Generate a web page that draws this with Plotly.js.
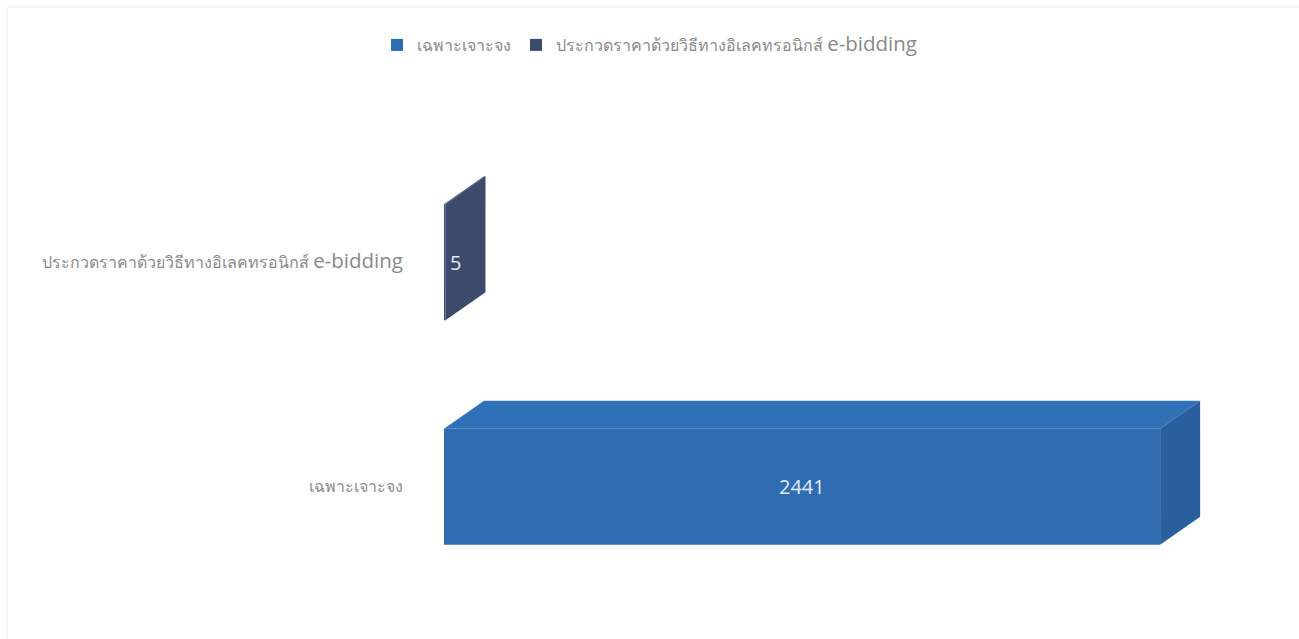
<!DOCTYPE html>
<html>
<head>
<meta charset="utf-8">
<script src="https://cdn.plot.ly/plotly-3.0.1.min.js"></script>
<style>
html,body{margin:0;padding:0;background:#ffffff;}
#chart{width:1299px;height:639px;}
</style>
</head>
<body>
<div id="chart"></div>
<script>
// ---- data ----
const categories = ["เฉพาะเจาะจง", "ประกวดราคาด้วยวิธีทางอิเลคทรอนิกส์ e-bidding"];
const seriesNames = ["เฉพาะเจาะจง", "ประกวดราคาด้วยวิธีทางอิเลคทรอนิกส์ e-bidding"];
const values = [2441, 5];
const tickLabels = [
  "เฉพาะเจาะจง",
  "ประกวดราคาด้วยวิธีทางอิเลคทรอนิกส์ <span style=\"font-size:20.5px\">e-bidding</span>"
];
const legendLabels = [
  "เฉพาะเจาะจง",
  "ประกวดราคาด้วยวิธีทางอิเลคทรอนิกส์ <span style=\"font-size:20.5px\">e-bidding</span>"
];

// ---- styling / geometry ----
const frontColors = ["#2f6cb2", "#3c4a6c"];
const topColors   = ["#3070b6", "#3c4a6c"];
const sideColors  = ["#2a5f9e", "#3c4a6c"];
const W = 1299, H = 639;
const margin = {l: 444, r: 89, t: 150, b: 40};
const xMax = 2611;
const plotW = W - margin.l - margin.r;
const plotH = H - margin.t - margin.b;
const yRange = [-0.5, 1.5];
const pxX = xMax / plotW;                   // data units per px (x)
const pxY = (yRange[1] - yRange[0]) / plotH; // data units per px (y)
const dx = 40 * pxX, dy = 28 * pxY;         // 3D depth
const half = 0.258;                          // half bar thickness
const labelFont = {color: "#e3eaf4", size: 20, family: "Open Sans, sans-serif"};

const traces = [];
// depth faces (top + side) built from the data
values.forEach((v, i) => {
  const c = i;
  traces.push({
    type: "scatter", mode: "lines", fill: "toself", hoverinfo: "skip", showlegend: false,
    x: [0, dx, v + dx, v, 0], y: [c + half, c + half + dy, c + half + dy, c + half, c + half],
    line: {width: 0, color: topColors[i]}, fillcolor: topColors[i]
  });
  traces.push({
    type: "scatter", mode: "lines", fill: "toself", hoverinfo: "skip", showlegend: false,
    x: [v, v + dx, v + dx, v, v], y: [c - half, c - half + dy, c + half + dy, c + half, c - half],
    line: {width: 0, color: sideColors[i]}, fillcolor: sideColors[i]
  });
});
// front faces as real bars
values.forEach((v, i) => {
  traces.push({
    type: "bar", orientation: "h", name: legendLabels[i],
    x: [v], y: [i], width: 2 * half,
    marker: {color: frontColors[i], line: {width: 0}},
    hoverinfo: "skip"
  });
});

// data labels (annotations sit above all trace layers)
const annotations = values.map((v, i) => {
  const fits = v / xMax * plotW > 60;
  return {
    x: fits ? v / 2 : v, y: i, xref: "x", yref: "y",
    text: String(v), showarrow: false,
    xanchor: fits ? "center" : "left", xshift: fits ? 0 : 3,
    font: labelFont
  };
});

const layout = {
  width: W, height: H,
  margin: margin,
  paper_bgcolor: "#ffffff", plot_bgcolor: "rgba(0,0,0,0)",
  barmode: "overlay",
  showlegend: true,
  legend: {
    orientation: "h", xref: "container", yref: "container",
    x: 0.5, xanchor: "center", y: 1 - 45 / H, yanchor: "middle",
    font: {size: 16, color: "#8a8a8a", family: "Open Sans, Noto Sans, sans-serif"},
    traceorder: "normal", itemclick: false, itemwidth: 30
  },
  xaxis: {range: [0, xMax], visible: false, fixedrange: true},
  yaxis: {
    range: yRange, tickmode: "array", tickvals: [0, 1], ticktext: tickLabels,
    showgrid: false, zeroline: false, showline: false, ticks: "",
    ticklabelstandoff: 40,
    tickfont: {size: 16, color: "#8a8a8a", family: "Open Sans, Noto Sans, sans-serif"},
    fixedrange: true
  },
  annotations: annotations,
  shapes: [
    {type: "line", xref: "paper", yref: "paper",
     x0: (7 - margin.l) / plotW, x1: (7 - margin.l) / plotW,
     y0: 1 + (margin.t - 8) / plotH, y1: 1 + (margin.t - 639) / plotH,
     line: {color: "#ececec", width: 1}},
    {type: "line", xref: "paper", yref: "paper",
     x0: (7 - margin.l) / plotW, x1: (1299 - margin.l) / plotW,
     y0: 1 + (margin.t - 7) / plotH, y1: 1 + (margin.t - 7) / plotH,
     line: {color: "#ececec", width: 1}}
  ]
};

Plotly.newPlot("chart", traces, layout, {displayModeBar: false, staticPlot: true});
</script>
</body>
</html>
